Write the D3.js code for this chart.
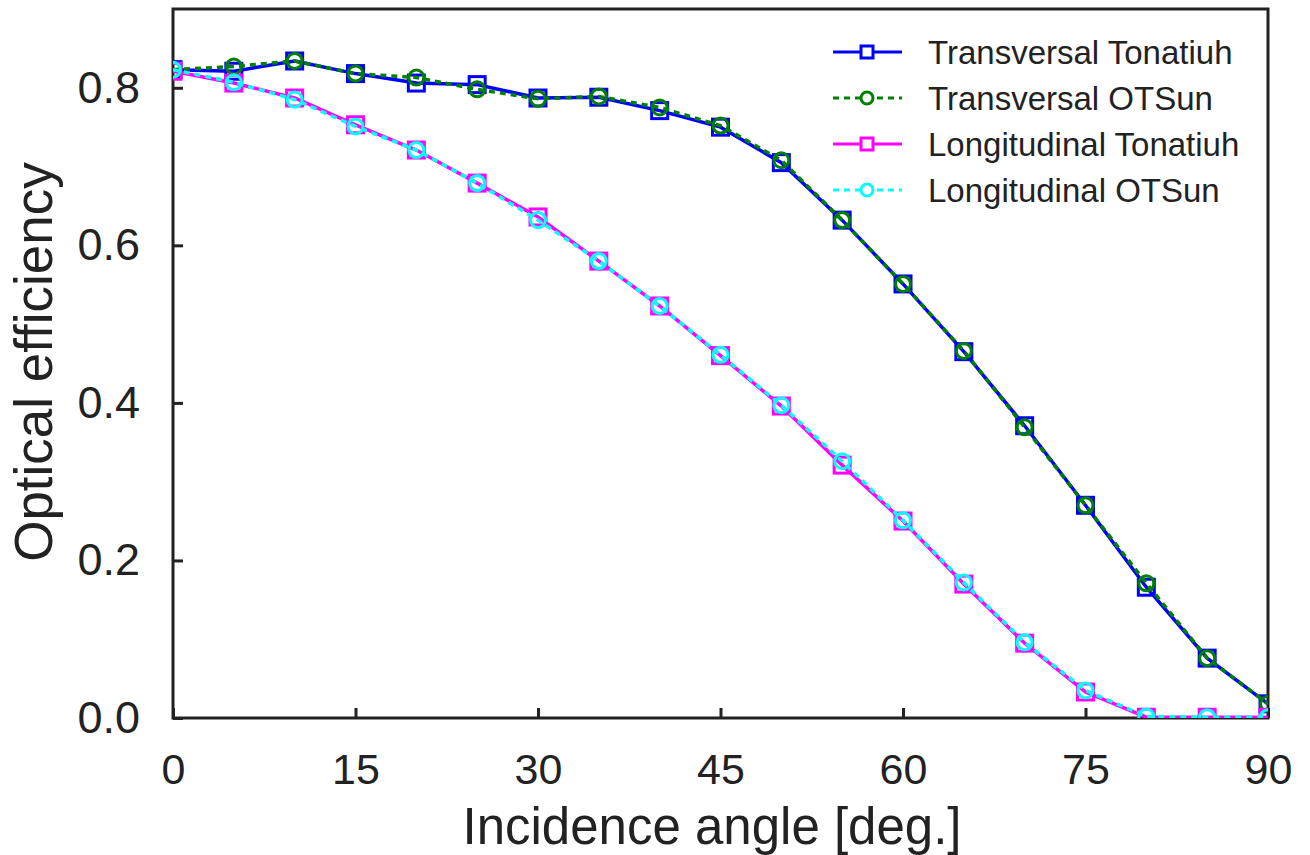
<!DOCTYPE html>
<html>
<head>
<meta charset="utf-8">
<script src="https://cdn.jsdelivr.net/npm/d3@7"></script>
<style>
  body { margin: 0; background: #fff; }
  svg { font-family: "Liberation Sans", Arial, sans-serif; }
</style>
</head>
<body>
<div id="chart"></div>
<script>
// incidence angles [deg.]
var angles = [0, 5, 10, 15, 20, 25, 30, 35, 40, 45, 50, 55, 60, 65, 70, 75, 80, 85, 90];

// optical efficiency
var transTonatiuh = [0.823, 0.821, 0.834, 0.818, 0.806, 0.804, 0.787, 0.788, 0.771, 0.750, 0.705, 0.632, 0.551, 0.465, 0.371, 0.270, 0.166, 0.076, 0.018];
var transOTSun    = [0.823, 0.827, 0.834, 0.818, 0.813, 0.798, 0.786, 0.789, 0.775, 0.752, 0.708, 0.632, 0.551, 0.466, 0.369, 0.270, 0.171, 0.076, 0.018];
var longTonatiuh  = [0.821, 0.806, 0.787, 0.753, 0.721, 0.679, 0.636, 0.580, 0.523, 0.460, 0.396, 0.321, 0.250, 0.170, 0.095, 0.033, 0.001, 0.001, 0.001];
var longOTSun     = [0.823, 0.807, 0.785, 0.751, 0.721, 0.679, 0.632, 0.580, 0.523, 0.461, 0.397, 0.326, 0.251, 0.172, 0.096, 0.035, 0.002, 0.001, 0.001];

var xTicks = [0, 15, 30, 45, 60, 75, 90];
var yTicks = [0.0, 0.2, 0.4, 0.6, 0.8];

var series = [
  { name: "Transversal Tonatiuh", values: transTonatiuh, color: "#0000ff", dash: null, marker: "square" },
  { name: "Transversal OTSun", values: transOTSun, color: "#008000", dash: "6,5", marker: "circle" },
  { name: "Longitudinal Tonatiuh", values: longTonatiuh, color: "#ff00ff", dash: null, marker: "square" },
  { name: "Longitudinal OTSun", values: longOTSun, color: "#00ffff", dash: "6,5", marker: "circle" }
];

var W = 1310, H = 855;
var margin = { top: 9, right: 42, bottom: 137, left: 173 };
var width = W - margin.left - margin.right;
var height = H - margin.top - margin.bottom;

var svg = d3.select("#chart").append("svg")
    .attr("width", W)
    .attr("height", H);

var g = svg.append("g")
    .attr("transform", "translate(" + margin.left + "," + margin.top + ")");

var x = d3.scaleLinear().domain([0, 90]).range([0, width]);
var y = d3.scaleLinear().domain([0, 0.9]).range([height, 0]);

// axes with inward ticks
var xAxis = d3.axisBottom(x).tickValues(xTicks).tickSizeInner(-10).tickSizeOuter(0).tickPadding(35)
    .tickFormat(d3.format("d"));
var yAxis = d3.axisLeft(y).tickValues(yTicks).tickSizeInner(-10).tickSizeOuter(0).tickPadding(33)
    .tickFormat(d3.format(".1f"));

var gx = g.append("g").attr("transform", "translate(0," + height + ")").call(xAxis);
var gy = g.append("g").call(yAxis);

[gx, gy].forEach(function(a) {
  a.select(".domain").remove();
  a.selectAll(".tick line").attr("stroke", "#222").attr("stroke-width", 3);
  a.selectAll(".tick text").attr("fill", "#222");
});
gx.selectAll(".tick text").attr("font-size", 43).attr("dy", "0.71em");
gy.selectAll(".tick text").attr("font-size", 45);

// frame
g.append("rect")
    .attr("width", width)
    .attr("height", height)
    .attr("fill", "none")
    .attr("stroke", "#222")
    .attr("stroke-width", 3);

// clip so markers at the edges are cut like the original
g.append("clipPath").attr("id", "clip")
  .append("rect").attr("width", width).attr("height", height);

var plot = g.append("g").attr("clip-path", "url(#clip)");

var line = d3.line()
    .x(function(d, i) { return x(angles[i]); })
    .y(function(d) { return y(d); });

function drawMarker(sel, s, cx, cy) {
  if (s.marker === "square") {
    sel.append("rect")
        .attr("x", cx - 8).attr("y", cy - 8)
        .attr("width", 16).attr("height", 16)
        .attr("fill", "none").attr("stroke", s.color).attr("stroke-width", 3);
  } else {
    sel.append("circle")
        .attr("cx", cx).attr("cy", cy).attr("r", 7.5)
        .attr("fill", "none").attr("stroke", s.color).attr("stroke-width", 3);
  }
}

series.forEach(function(s) {
  plot.append("path")
      .datum(s.values)
      .attr("d", line)
      .attr("fill", "none")
      .attr("stroke", s.color)
      .attr("stroke-width", 3.5)
      .attr("stroke-dasharray", s.dash);
  var mg = plot.append("g");
  s.values.forEach(function(v, i) {
    drawMarker(mg, s, x(angles[i]), y(v));
  });
});

// legend
var legend = g.append("g").attr("transform", "translate(" + (833 - margin.left) + "," + (52 - margin.top) + ")");
series.forEach(function(s, i) {
  var row = legend.append("g").attr("transform", "translate(0," + (i * 46) + ")");
  row.append("line")
      .attr("x1", 0).attr("x2", 69).attr("y1", 0).attr("y2", 0)
      .attr("stroke", s.color).attr("stroke-width", 3)
      .attr("stroke-dasharray", s.dash);
  if (s.marker === "square") {
    row.append("rect").attr("x", 28).attr("y", -6).attr("width", 12).attr("height", 12)
        .attr("fill", "#fff").attr("stroke", s.color).attr("stroke-width", 3);
  } else {
    row.append("circle").attr("cx", 34).attr("cy", 0).attr("r", 6)
        .attr("fill", "#fff").attr("stroke", s.color).attr("stroke-width", 3);
  }
  row.append("text")
      .attr("x", 95).attr("y", 0).attr("dy", "0.35em")
      .attr("font-size", 33).attr("fill", "#222")
      .text(s.name);
});

// axis titles
svg.append("text")
    .attr("x", 712).attr("y", 844)
    .attr("text-anchor", "middle")
    .attr("font-size", 51).attr("fill", "#222")
    .text("Incidence angle [deg.]");

svg.append("text")
    .attr("transform", "translate(52,362) rotate(-90)")
    .attr("text-anchor", "middle")
    .attr("font-size", 53).attr("fill", "#222")
    .text("Optical efficiency");
</script>
</body>
</html>
